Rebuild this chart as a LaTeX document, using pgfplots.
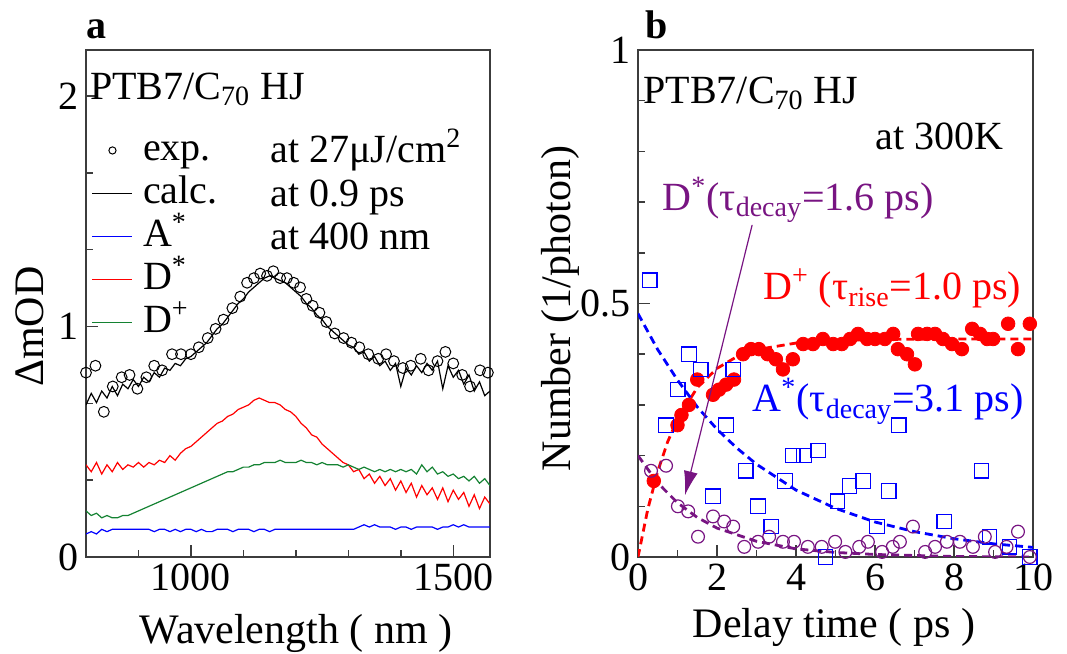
\documentclass[border=0pt]{standalone}
\usepackage{fontspec}
\setmainfont{Liberation Serif}
\usepackage{pgfplots}
\pgfplotsset{compat=1.18}
\usetikzlibrary{arrows.meta}

\definecolor{axgray}{RGB}{60,60,60}
\definecolor{dgreen}{RGB}{20,130,50}
\definecolor{dpurple}{RGB}{120,20,130}
\definecolor{fred}{RGB}{255,0,0}
\definecolor{fblue}{RGB}{0,0,255}
\newcommand{\bigfont}{\fontsize{20}{24}\selectfont}
\newcommand{\labfont}{\fontsize{21}{25}\selectfont}

\pgfplotsset{
  panel/.style={
    scale only axis,
    clip mode=individual,
    axis line style={axgray, line width=0.75pt},
    every tick/.style={axgray, line width=0.75pt},
    major tick length=6pt, minor tick length=3.5pt,
    xtick pos=left, ytick pos=left, tick align=inside,
    tick label style={font=\bigfont},
    label style={font=\labfont},
    /pgf/number format/assume math mode=true,
    /pgf/number format/1000 sep={},
  },
  legend image code/.code={\draw[mark repeat=2,mark phase=2,#1] plot coordinates {(0pt,0pt) (10pt,0pt) (20pt,0pt)};},
}

\begin{document}
\begin{tikzpicture}
\useasboundingbox (0,0) rectangle (533.5pt,327pt);

% ---------- panel a ----------
\begin{axis}[panel,
  at={(43pt,48.5pt)}, anchor=south west,
  width=202pt, height=253.5pt,
  xmin=800, xmax=1570, ymin=0, ymax=2.2,
  xtick={1000,1500}, minor xtick={900,1100,1200,1300,1400},
  ytick={0,1,2}, minor ytick={0.3333,0.6667,1.3333,1.6667},
  xlabel={Wavelength ( nm )},
  xlabel style={at={(axis description cs:0.52,-0.17)}, anchor=base},
  ylabel={ΔmOD},
  ylabel style={at={(axis description cs:-0.139,0.454)}, anchor=center},
  legend style={draw=none, fill=none, at={(axis cs:799,1.87)}, anchor=north west,
    font=\bigfont, row sep=1.5pt, column sep=5pt,
    nodes={inner sep=0pt, text height=15pt, text depth=5pt}},
  legend cell align=left,
]
\addplot[only marks, mark=o, mark size=2.7pt, black, line width=0.5pt,
  legend image post style={mark size=1.8pt}] coordinates {
(800,0.80) (818,0.83) (834,0.63) (851,0.74) (868,0.78) (883,0.79) (898,0.73)
(915,0.78) (930,0.83) (945,0.81) (964,0.88) (981,0.88) (1000,0.88) (1015,0.91)
(1032,0.95) (1047,0.99) (1062,1.03) (1079,1.08) (1094,1.13) (1107,1.19)
(1120,1.21) (1132,1.23) (1145,1.22) (1157,1.24) (1170,1.21) (1183,1.21)
(1196,1.19) (1208,1.17) (1220,1.12) (1232,1.09) (1245,1.06) (1258,1.02)
(1274,0.97) (1291,0.95) (1306,0.93) (1321,0.91) (1338,0.88) (1357,0.86)
(1372,0.88) (1387,0.85) (1404,0.82) (1419,0.83) (1438,0.86) (1453,0.81)
(1470,0.85) (1485,0.89) (1500,0.84) (1517,0.79) (1532,0.74) (1551,0.81) (1566,0.80)
};
\addlegendentry{exp.}
\addplot[black, line width=0.6pt] coordinates {
(800,0.66) (810,0.71) (820,0.67) (830,0.72) (840,0.69) (850,0.74) (860,0.70)
(870,0.75) (880,0.73) (890,0.77) (900,0.74) (910,0.78) (920,0.76) (930,0.80)
(940,0.78) (950,0.82) (960,0.81) (970,0.84) (980,0.83) (990,0.86) (1000,0.87)
(1010,0.89) (1020,0.91) (1030,0.93) (1040,0.96) (1050,0.99) (1060,1.01)
(1070,1.04) (1080,1.07) (1090,1.10) (1100,1.12) (1110,1.15) (1120,1.17)
(1130,1.19) (1140,1.21) (1150,1.22) (1160,1.21) (1170,1.20) (1180,1.19)
(1190,1.17) (1200,1.15) (1210,1.13) (1220,1.10) (1230,1.08) (1240,1.05)
(1250,1.03) (1260,1.00) (1270,0.98) (1280,0.96) (1290,0.94) (1300,0.92)
(1310,0.91) (1320,0.88) (1330,0.89) (1340,0.85) (1350,0.87) (1360,0.83)
(1370,0.85) (1380,0.81) (1390,0.84) (1400,0.74) (1410,0.82) (1420,0.79)
(1430,0.83) (1440,0.80) (1450,0.84) (1460,0.81) (1470,0.85) (1480,0.73)
(1490,0.83) (1500,0.78) (1510,0.81) (1520,0.75) (1530,0.79) (1540,0.72)
(1550,0.76) (1560,0.70) (1570,0.72)
};
\addlegendentry{calc.}
\addplot[fblue, line width=0.6pt] coordinates {
(800,0.10) (810,0.11) (820,0.10) (830,0.12) (840,0.11) (850,0.12) (860,0.12)
(870,0.12) (880,0.12) (890,0.12) (900,0.12) (910,0.12) (920,0.12) (930,0.11)
(940,0.12) (950,0.12) (960,0.11) (970,0.12) (980,0.11) (990,0.12) (1000,0.12)
(1010,0.11) (1020,0.12) (1030,0.11) (1040,0.11) (1050,0.12) (1060,0.12)
(1070,0.12) (1080,0.11) (1090,0.12) (1100,0.12) (1110,0.12) (1120,0.11)
(1130,0.12) (1140,0.12) (1150,0.11) (1160,0.12) (1170,0.12) (1180,0.12)
(1190,0.12) (1200,0.12) (1210,0.12) (1220,0.12) (1230,0.12) (1240,0.12)
(1250,0.12) (1260,0.12) (1270,0.12) (1280,0.12) (1290,0.12) (1300,0.12)
(1310,0.12) (1320,0.13) (1330,0.14) (1340,0.13) (1350,0.14) (1360,0.13)
(1370,0.13) (1380,0.13) (1390,0.12) (1400,0.13) (1410,0.13) (1420,0.12)
(1430,0.13) (1440,0.13) (1450,0.13) (1460,0.13) (1470,0.12) (1480,0.13)
(1490,0.13) (1500,0.14) (1510,0.13) (1520,0.14) (1530,0.13) (1540,0.13)
(1550,0.13) (1560,0.13) (1570,0.13)
};
\addlegendentry{A\textsuperscript{*}}
\addplot[fred, line width=0.6pt] coordinates {
(800,0.40) (810,0.37) (820,0.41) (830,0.36) (840,0.40) (850,0.37) (860,0.41)
(870,0.38) (880,0.40) (890,0.39) (900,0.41) (910,0.39) (920,0.41) (930,0.40)
(940,0.42) (950,0.41) (960,0.44) (970,0.42) (980,0.45) (990,0.47) (1000,0.48)
(1010,0.50) (1020,0.52) (1030,0.54) (1040,0.56) (1050,0.58) (1060,0.59)
(1070,0.61) (1080,0.62) (1090,0.64) (1100,0.65) (1110,0.66) (1120,0.68)
(1130,0.69) (1140,0.68) (1150,0.67) (1160,0.67) (1170,0.66) (1180,0.64)
(1190,0.63) (1200,0.61) (1210,0.58) (1220,0.56) (1230,0.53) (1240,0.52)
(1250,0.49) (1260,0.47) (1270,0.45) (1280,0.43) (1290,0.41) (1300,0.40)
(1310,0.37) (1320,0.38) (1330,0.34) (1340,0.36) (1350,0.32) (1360,0.35)
(1370,0.31) (1380,0.34) (1390,0.29) (1400,0.33) (1410,0.28) (1420,0.32)
(1430,0.26) (1440,0.31) (1450,0.27) (1460,0.30) (1470,0.25) (1480,0.30)
(1490,0.24) (1500,0.29) (1510,0.25) (1520,0.28) (1530,0.22) (1540,0.27)
(1550,0.21) (1560,0.26) (1570,0.23)
};
\addlegendentry{D\textsuperscript{*}}
\addplot[dgreen, line width=0.6pt] coordinates {
(800,0.20) (810,0.18) (820,0.19) (830,0.17) (840,0.18) (850,0.17) (860,0.17)
(870,0.18) (880,0.18) (890,0.19) (900,0.20) (910,0.21) (920,0.22) (930,0.23)
(940,0.24) (950,0.25) (960,0.26) (970,0.27) (980,0.28) (990,0.29) (1000,0.30)
(1010,0.31) (1020,0.32) (1030,0.33) (1040,0.34) (1050,0.35) (1060,0.36)
(1070,0.37) (1080,0.37) (1090,0.38) (1100,0.39) (1110,0.39) (1120,0.40)
(1130,0.40) (1140,0.41) (1150,0.41) (1160,0.41) (1170,0.42) (1180,0.41)
(1190,0.41) (1200,0.41) (1210,0.42) (1220,0.41) (1230,0.41) (1240,0.40)
(1250,0.41) (1260,0.40) (1270,0.40) (1280,0.40) (1290,0.39) (1300,0.40)
(1310,0.39) (1320,0.38) (1330,0.39) (1340,0.38) (1350,0.37) (1360,0.38)
(1370,0.37) (1380,0.38) (1390,0.37) (1400,0.38) (1410,0.37) (1420,0.38)
(1430,0.36) (1440,0.40) (1450,0.37) (1460,0.39) (1470,0.36) (1480,0.37)
(1490,0.35) (1500,0.36) (1510,0.34) (1520,0.35) (1530,0.33) (1540,0.35)
(1550,0.32) (1560,0.34) (1570,0.31)
};
\addlegendentry{D\textsuperscript{+}}
\node[anchor=base west, font=\bigfont, inner sep=0pt] at (axis cs:807,1.987) {PTB7/C\textsubscript{70} HJ};
\node[anchor=base west, font=\bigfont, inner sep=0pt] at (axis cs:1151,1.713) {at 27μJ/cm\textsuperscript{2}};
\node[anchor=base west, font=\bigfont, inner sep=0pt] at (axis cs:1151,1.522) {at 0.9 ps};
\node[anchor=base west, font=\bigfont, inner sep=0pt] at (axis cs:1151,1.335) {at 400 nm};
\node[anchor=base west, font=\bigfont\bfseries, inner sep=0pt] at (axis cs:800,2.252) {a};
\end{axis}

% ---------- panel b ----------
\begin{axis}[panel,
  at={(319pt,48.5pt)}, anchor=south west,
  width=197.5pt, height=253.5pt,
  xmin=0, xmax=10, ymin=0, ymax=1,
  xtick={0,2,...,10}, minor x tick num=1,
  ytick={0,0.5,1}, minor y tick num=4,
  xlabel={Delay time ( ps )},
  xlabel style={at={(axis description cs:0.496,-0.158)}, anchor=base},
  ylabel={Number (1/photon)},
  ylabel style={at={(axis description cs:-0.197,0.49)}, anchor=center},
]
% fits
\addplot[fred, line width=1.4pt, dash pattern=on 4pt off 2.5pt] coordinates {
(0,0) (0.25,0.095) (0.5,0.169) (0.75,0.227) (1,0.272) (1.5,0.334) (2,0.372)
(2.5,0.395) (3,0.409) (4,0.422) (5,0.427) (6,0.429) (8,0.430) (10,0.430)
};
\addplot[fblue, line width=1.4pt, dash pattern=on 4pt off 2.5pt] coordinates {
(0,0.48) (0.5,0.409) (1,0.349) (1.5,0.296) (2,0.252) (2.5,0.215) (3,0.183)
(4,0.132) (5,0.096) (6,0.069) (7,0.050) (8,0.036) (9,0.026) (10,0.019)
};
\addplot[dpurple, line width=1.4pt, dash pattern=on 4pt off 2.5pt] coordinates {
(0,0.20) (0.5,0.146) (1,0.107) (1.5,0.078) (2,0.057) (3,0.031) (4,0.016)
(5,0.009) (6,0.005) (8,0.001) (10,0.000)
};
% data
\addplot[only marks, mark=*, mark size=3.4pt, fred, mark options={fill=fred, draw=fred}] coordinates {
(0.40,0.15) (1.00,0.26) (1.10,0.28) (1.29,0.30) (1.50,0.35) (1.90,0.32)
(2.05,0.33) (2.23,0.34) (2.43,0.35) (2.66,0.40) (2.86,0.41) (3.06,0.41)
(3.28,0.40) (3.49,0.39) (3.67,0.37) (3.92,0.39) (4.18,0.42) (4.43,0.42)
(4.68,0.43) (4.94,0.42) (5.16,0.42) (5.37,0.43) (5.57,0.44) (5.80,0.43)
(6.00,0.43) (6.25,0.43) (6.46,0.44) (6.58,0.41) (6.81,0.40) (7.01,0.38)
(7.09,0.44) (7.32,0.44) (7.52,0.44) (7.72,0.43) (7.95,0.42) (8.20,0.41)
(8.46,0.45) (8.66,0.44) (8.84,0.43) (8.99,0.43) (9.37,0.46) (9.62,0.41) (9.92,0.46)
};
\addplot[only marks, mark=square, mark size=3.6pt, fblue, line width=0.6pt] coordinates {
(0.30,0.546) (0.71,0.26) (1.01,0.33) (1.29,0.40) (1.59,0.37) (1.90,0.12)
(2.23,0.26) (2.41,0.37) (2.73,0.17) (3.04,0.10) (3.37,0.06) (3.72,0.15)
(3.92,0.20) (4.20,0.20) (4.56,0.21) (4.75,0.00) (5.05,0.11) (5.35,0.14)
(5.70,0.15) (6.05,0.06) (6.35,0.13) (6.60,0.26) (7.75,0.07) (8.70,0.17)
(8.90,0.04) (9.40,0.02) (9.92,0.00)
};
\addplot[only marks, mark=o, mark size=3.2pt, dpurple, line width=0.6pt] coordinates {
(0.33,0.17) (0.71,0.18) (1.01,0.10) (1.27,0.09) (1.52,0.04) (1.90,0.08)
(2.18,0.07) (2.41,0.06) (2.69,0.02) (3.04,0.03) (3.32,0.04) (3.67,0.03)
(3.95,0.03) (4.30,0.02) (4.65,0.02) (4.99,0.03) (5.25,0.01) (5.60,0.02)
(5.82,0.03) (6.18,0.01) (6.45,0.02) (6.63,0.03) (6.96,0.06) (7.27,0.01)
(7.52,0.02) (7.82,0.03) (8.15,0.03) (8.48,0.02) (8.78,0.04) (9.04,0.01)
(9.33,0.02) (9.62,0.05) (9.92,0.00)
};
\draw[dpurple, line width=0.6pt, -{Latex[length=12pt,width=7pt]}] (axis cs:2.89,0.655) -- (axis cs:1.19,0.122);
\node[anchor=base west, font=\bigfont, inner sep=0pt] at (axis cs:0.13,0.895) {PTB7/C\textsubscript{70} HJ};
\node[anchor=base west, font=\bigfont, inner sep=0pt] at (axis cs:6.0,0.803) {at 300K};
\node[anchor=base west, font=\bigfont, inner sep=0pt, text=dpurple] at (axis cs:0.61,0.684) {D\textsuperscript{*}(τ\textsubscript{decay}=1.6 ps)};
\node[anchor=base west, font=\bigfont, inner sep=0pt, text=fred] at (axis cs:3.16,0.507) {D\textsuperscript{+} (τ\textsubscript{rise}=1.0 ps)};
\node[anchor=base west, font=\bigfont, inner sep=0pt, text=fblue] at (axis cs:2.89,0.286) {A\textsuperscript{*}(τ\textsubscript{decay}=3.1 ps)};
\node[anchor=base west, font=\bigfont\bfseries, inner sep=0pt] at (axis cs:0.18,1.022) {b};
\end{axis}
\end{tikzpicture}
\end{document}
